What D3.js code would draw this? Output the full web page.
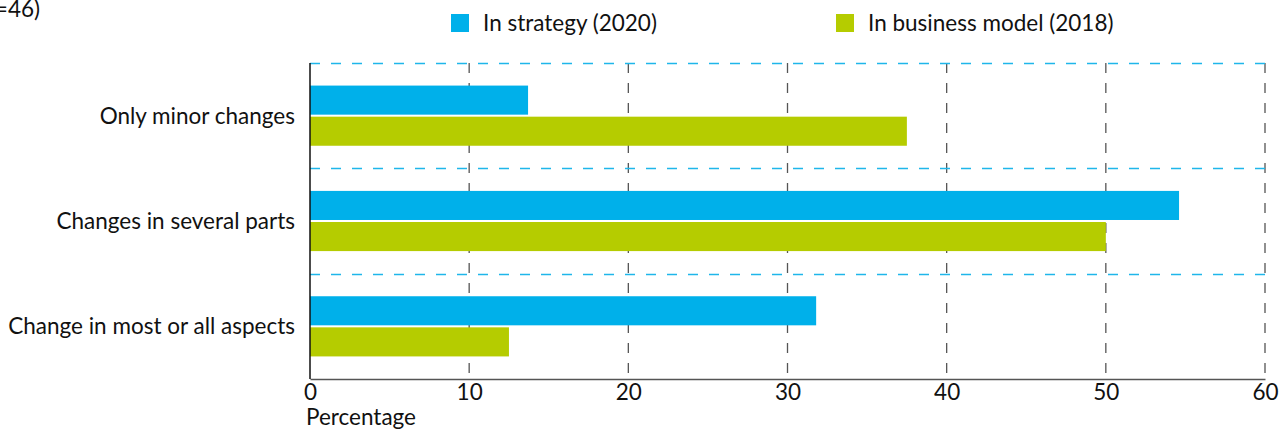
<!DOCTYPE html>
<html>
<head>
<meta charset="utf-8">
<script src="https://cdn.jsdelivr.net/npm/d3@7"></script>
<style>
  body { margin: 0; background: #fff; }
  svg { display: block; font-family: "Lato", "Open Sans", sans-serif; }
</style>
</head>
<body>
<svg id="chart" width="1288" height="433"></svg>
<script>
// Extent of change reported, by category
const categories = ["Only minor changes", "Changes in several parts", "Change in most or all aspects"];
const seriesNames = ["In strategy (2020)", "In business model (2018)"];
const strategy2020 = [13.7, 54.6, 31.8];
const businessModel2018 = [37.5, 50.0, 12.5];
const xTicks = [0, 10, 20, 30, 40, 50, 60];
const colors = ["#00b0ea", "#b5cc00"];

const svg = d3.select("#chart");
const margin = { left: 310, right: 23, top: 63, bottom: 54 };
const W = 1288, H = 433;
const fontSize = 22.5;

const x = d3.scaleLinear().domain([0, 60]).range([margin.left, W - margin.right]);
const y = d3.scaleBand().domain(categories).range([margin.top, H - margin.bottom]);
const inner = d3.scaleBand().domain(seriesNames).range([0, y.bandwidth()])
  .paddingInner(0.065).paddingOuter(0.726);

const rows = categories.map((c, i) => ({ cat: c, values: [strategy2020[i], businessModel2018[i]] }));

// vertical dashed gridlines
svg.append("g").selectAll("line").data(xTicks.filter(t => t > 0)).join("line")
  .attr("x1", d => x(d)).attr("x2", d => x(d))
  .attr("y1", margin.top).attr("y2", H - margin.bottom)
  .attr("stroke", "#555").attr("stroke-width", 1.3).attr("stroke-dasharray", "10,10");

// horizontal dashed separators between categories
svg.append("g").selectAll("line").data(categories).join("line")
  .attr("x1", x(0)).attr("x2", x(60))
  .attr("y1", d => Math.round(y(d)) + 0.5).attr("y2", d => Math.round(y(d)) + 0.5)
  .attr("stroke", "#1fb6ea").attr("stroke-width", 1.4).attr("stroke-dasharray", "10,11");

// bars
const groups = svg.append("g").selectAll("g").data(rows).join("g")
  .attr("transform", d => `translate(0,${y(d.cat)})`);
groups.selectAll("rect").data(d => d.values.map((v, i) => ({ v, s: seriesNames[i], i }))).join("rect")
  .attr("x", x(0))
  .attr("y", d => inner(d.s))
  .attr("width", d => x(d.v) - x(0))
  .attr("height", inner.bandwidth())
  .attr("fill", d => colors[d.i]);

// x axis
const xAxis = svg.append("g").attr("transform", `translate(0,${H - margin.bottom})`)
  .call(d3.axisBottom(x).tickValues(xTicks).tickSize(0).tickPadding(5));
xAxis.select(".domain").attr("stroke", "#555").attr("stroke-width", 1.5);
xAxis.selectAll("text").attr("font-size", fontSize).attr("fill", "#111").attr("font-family", "Lato, sans-serif");

// y axis line
svg.append("line").attr("x1", x(0)).attr("x2", x(0))
  .attr("y1", margin.top).attr("y2", H - margin.bottom)
  .attr("stroke", "#111").attr("stroke-width", 1.5);

// category labels
svg.append("g").selectAll("text").data(categories).join("text")
  .attr("x", 295).attr("y", d => y(d) + y.bandwidth() / 2)
  .attr("dy", "0.35em").attr("text-anchor", "end")
  .attr("font-size", fontSize).attr("fill", "#111")
  .text(d => d);

// axis title
svg.append("text").attr("x", 306).attr("y", 425)
  .attr("font-size", fontSize).attr("fill", "#111").text("Percentage");

// sample size note
svg.append("text").attr("x", 40).attr("y", 17).attr("text-anchor", "end")
  .attr("font-size", fontSize).attr("fill", "#111").text("(n=46)");

// legend
const legendX = [451, 836];
const legend = svg.append("g").selectAll("g").data(seriesNames).join("g")
  .attr("transform", (d, i) => `translate(${legendX[i]},14)`);
legend.append("rect").attr("width", 18).attr("height", 18).attr("fill", (d, i) => colors[i]);
legend.append("text").attr("x", 32).attr("y", 9).attr("dy", "0.35em")
  .attr("font-size", fontSize).attr("fill", "#111").text(d => d);
</script>
</body>
</html>
